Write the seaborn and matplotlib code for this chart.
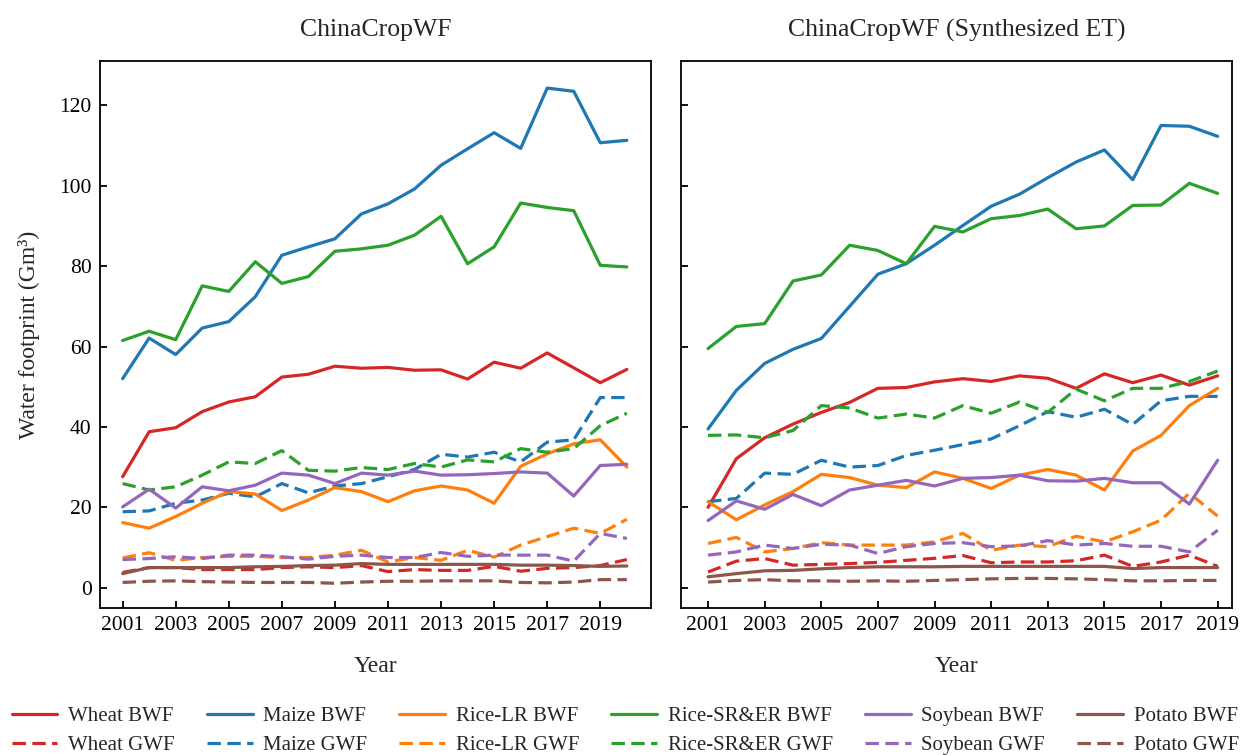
import numpy as np
import pandas as pd
import matplotlib
matplotlib.use("Agg")
import matplotlib.pyplot as plt
import seaborn as sns

# Years
years_a = list(range(2001, 2021))
years_b = list(range(2001, 2020))

# ChinaCropWF (left panel)
wheat_bwf_a = [27.6, 38.8, 39.8, 43.8, 46.2, 47.5, 52.4, 53.1, 55.1, 54.6, 54.8, 54.1, 54.2, 51.9, 56.1, 54.6, 58.4, 54.7, 51.0, 54.3]
maize_bwf_a = [52.0, 62.1, 58.0, 64.6, 66.2, 72.4, 82.7, 84.8, 86.8, 93.0, 95.5, 99.2, 105.1, 109.2, 113.2, 109.3, 124.3, 123.5, 110.7, 111.3]
ricelr_bwf_a = [16.2, 14.8, 17.7, 21.0, 23.9, 23.3, 19.2, 21.8, 24.9, 23.9, 21.4, 24.1, 25.3, 24.3, 21.0, 30.2, 33.3, 35.8, 36.8, 30.0]
ricesr_bwf_a = [61.5, 63.8, 61.7, 75.1, 73.7, 81.1, 75.7, 77.4, 83.7, 84.3, 85.2, 87.7, 92.4, 80.6, 84.8, 95.7, 94.6, 93.8, 80.2, 79.8]
soy_bwf_a = [20.1, 24.5, 19.8, 25.1, 24.1, 25.5, 28.5, 28.0, 25.9, 28.5, 28.0, 29.0, 28.0, 28.1, 28.4, 28.8, 28.5, 22.8, 30.4, 30.7]
potato_bwf_a = [3.5, 5.0, 5.0, 5.0, 5.0, 5.2, 5.3, 5.5, 5.6, 6.0, 5.8, 5.8, 5.8, 5.8, 5.8, 5.6, 5.6, 5.5, 5.3, 5.4]
wheat_gwf_a = [3.8, 5.0, 5.0, 4.5, 4.5, 4.5, 5.0, 5.2, 5.0, 5.5, 4.0, 4.5, 4.3, 4.3, 5.3, 4.1, 4.8, 5.0, 5.5, 7.0]
maize_gwf_a = [18.9, 19.1, 21.0, 21.8, 23.5, 22.6, 25.9, 23.6, 25.3, 25.9, 27.6, 29.4, 33.2, 32.5, 33.7, 31.3, 36.2, 36.8, 47.3, 47.3]
ricelr_gwf_a = [7.4, 8.7, 6.8, 7.5, 7.8, 7.8, 7.5, 7.5, 8.1, 9.3, 6.4, 7.5, 6.8, 9.3, 7.6, 10.6, 12.7, 14.8, 13.5, 17.0]
ricesr_gwf_a = [25.9, 24.3, 25.1, 28.0, 31.3, 30.9, 34.1, 29.2, 29.0, 29.9, 29.4, 30.9, 30.0, 31.8, 31.3, 34.6, 33.7, 34.6, 40.3, 43.4]
soy_gwf_a = [7.0, 7.25, 7.7, 7.25, 8.1, 8.1, 7.7, 7.1, 7.8, 8.1, 7.5, 7.5, 8.75, 7.8, 8.1, 8.1, 8.1, 6.6, 13.5, 12.25]
potato_gwf_a = [1.3, 1.6, 1.7, 1.5, 1.4, 1.3, 1.3, 1.3, 1.1, 1.4, 1.6, 1.6, 1.7, 1.7, 1.7, 1.3, 1.2, 1.4, 2.0, 2.0]

# ChinaCropWF (Synthesized ET) (right panel)
wheat_bwf_b = [20.0, 32.1, 37.3, 40.7, 43.6, 46.1, 49.6, 49.8, 51.2, 52.0, 51.3, 52.7, 52.1, 49.6, 53.2, 51.0, 52.9, 50.4, 52.7]
maize_bwf_b = [39.5, 49.1, 55.8, 59.3, 62.0, 70.0, 78.0, 80.6, 85.2, 90.1, 94.9, 97.9, 102.0, 105.9, 108.9, 101.5, 115.0, 114.8, 112.3]
ricelr_bwf_b = [21.4, 16.9, 20.6, 23.9, 28.2, 27.4, 25.5, 24.9, 28.8, 27.2, 24.7, 28.0, 29.4, 28.0, 24.3, 34.0, 37.9, 45.3, 49.6]
ricesr_bwf_b = [59.5, 65.0, 65.7, 76.3, 77.8, 85.2, 83.9, 80.6, 89.9, 88.5, 91.8, 92.6, 94.2, 89.3, 90.0, 95.1, 95.2, 100.6, 98.1]
soy_bwf_b = [16.7, 21.6, 19.5, 23.2, 20.4, 24.3, 25.5, 26.7, 25.3, 27.2, 27.4, 28.0, 26.6, 26.5, 27.2, 26.1, 26.1, 20.8, 31.7]
potato_bwf_b = [2.7, 3.5, 4.2, 4.3, 4.7, 5.0, 5.2, 5.2, 5.2, 5.3, 5.3, 5.3, 5.3, 5.3, 5.3, 4.75, 5.0, 5.0, 5.0]
wheat_gwf_b = [3.9, 6.6, 7.25, 5.6, 5.8, 6.0, 6.3, 6.8, 7.3, 8.0, 6.2, 6.4, 6.4, 6.7, 8.1, 5.3, 6.4, 8.1, 5.3]
maize_gwf_b = [21.4, 22.2, 28.5, 28.2, 31.7, 30.0, 30.4, 32.9, 34.2, 35.6, 37.0, 40.3, 43.8, 42.4, 44.4, 40.6, 46.5, 47.6, 47.6]
ricelr_gwf_b = [11.0, 12.5, 8.9, 9.75, 11.2, 10.6, 10.6, 10.6, 11.4, 13.5, 9.3, 10.6, 10.2, 12.8, 11.4, 13.9, 16.8, 23.5, 17.8]
ricesr_gwf_b = [37.9, 38.0, 37.3, 39.1, 45.3, 44.7, 42.2, 43.2, 42.2, 45.3, 43.4, 46.2, 43.6, 49.4, 46.5, 49.6, 49.6, 51.3, 53.9]
soy_gwf_b = [8.1, 8.9, 10.6, 9.75, 10.8, 10.6, 8.5, 10.2, 11.0, 11.2, 10.2, 10.4, 11.7, 10.6, 11.0, 10.3, 10.3, 8.9, 14.3]
potato_gwf_b = [1.4, 1.8, 2.0, 1.7, 1.7, 1.6, 1.7, 1.6, 1.8, 2.0, 2.2, 2.3, 2.3, 2.2, 2.0, 1.7, 1.7, 1.8, 1.8]

crops = ["Wheat", "Maize", "Rice-LR", "Rice-SR&ER", "Soybean", "Potato"]
colors = ["#d62728", "#1f77b4", "#ff7f0e", "#2ca02c", "#9467bd", "#8c564b"]

panel_a = {
    "BWF": [wheat_bwf_a, maize_bwf_a, ricelr_bwf_a, ricesr_bwf_a, soy_bwf_a, potato_bwf_a],
    "GWF": [wheat_gwf_a, maize_gwf_a, ricelr_gwf_a, ricesr_gwf_a, soy_gwf_a, potato_gwf_a],
}
panel_b = {
    "BWF": [wheat_bwf_b, maize_bwf_b, ricelr_bwf_b, ricesr_bwf_b, soy_bwf_b, potato_bwf_b],
    "GWF": [wheat_gwf_b, maize_gwf_b, ricelr_gwf_b, ricesr_gwf_b, soy_gwf_b, potato_gwf_b],
}

sns.set_style("ticks")
plt.rcParams["font.family"] = ["Liberation Serif", "DejaVu Serif"]

fig = plt.figure(figsize=(12.43, 7.55), dpi=100)
ax1 = fig.add_axes([0.0805, 0.195, 0.443, 0.724])
ax2 = fig.add_axes([0.548, 0.195, 0.443, 0.724])

def draw(ax, years, panel):
    for i, crop in enumerate(crops):
        for kind, ls in [("BWF", "-"), ("GWF", (0, (4.2, 2.0)))]:
            sns.lineplot(x=years, y=panel[kind][i], ax=ax, color=colors[i],
                         linestyle=ls, linewidth=2.3, label=f"{crop} {kind}")
    ax.get_legend().remove()

draw(ax1, years_a, panel_a)
draw(ax2, years_b, panel_b)

ax1.set_xlim(2000.15, 2020.9)
ax2.set_xlim(2000.05, 2019.5)
for ax in (ax1, ax2):
    ax.set_ylim(-5, 131)
    ax.set_xticks(range(2001, 2020, 2))
    ax.set_yticks(range(0, 121, 20))
    ax.tick_params(direction="in", length=5, width=1.3, labelsize=15.5, colors="black", pad=6)
    for sp in ax.spines.values():
        sp.set_linewidth(1.3)
        sp.set_color("black")
    ax.set_xlabel("Year", fontsize=17, labelpad=15)
ax2.set_yticklabels([])
ax1.set_ylabel("Water footprint (Gm³)", fontsize=17, labelpad=14)
ax1.set_title("ChinaCropWF", fontsize=18.5, pad=18)
ax2.set_title("ChinaCropWF (Synthesized ET)", fontsize=18.5, pad=18)

handles, labels = ax1.get_legend_handles_labels()
fig.legend(handles, labels, loc="center", ncol=6, frameon=False,
           fontsize=15, bbox_to_anchor=(0.503, 0.032), columnspacing=1.55,
           handlelength=2.2, handletextpad=0.5, labelspacing=0.45)

fig.savefig("out.png", dpi=100)
